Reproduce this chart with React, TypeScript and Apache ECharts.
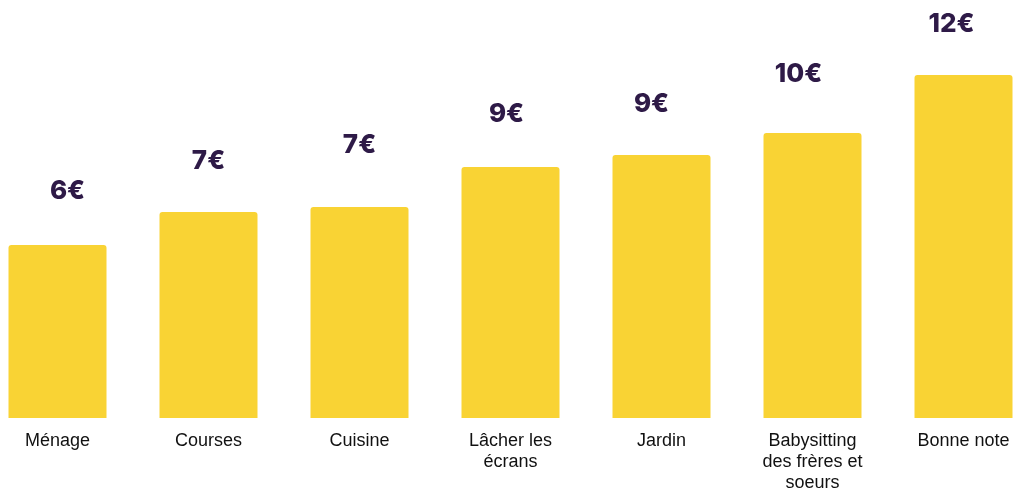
import React, { useEffect, useRef } from "react";
import * as echarts from "echarts";

const categories = [
  "Ménage",
  "Courses",
  "Cuisine",
  "Lâcher les\nécrans",
  "Jardin",
  "Babysitting\ndes frères et\nsoeurs",
  "Bonne note",
];
const values = [6.05, 7.21, 7.38, 8.78, 9.2, 9.97, 12];
const valueLabels = ["6€", "7€", "7€", "9€", "9€", "10€", "12€"];

// small per-label nudges (styling only) to mirror the reference placement
const labelNudges: [number, number][] = [
  [10, -0.5],
  [0, 3],
  [0, -8.5],
  [-4, 0],
  [-10, 2],
  [-14, -6],
  [-12, 2],
];

export default function App() {
  const ref = useRef<HTMLDivElement>(null);
  useEffect(() => {
    if (!ref.current) return;
    const chart = echarts.init(ref.current, undefined, { renderer: "svg" });
    chart.setOption({
      animation: false,
      grid: {
        left: 0,
        right: 0,
        top: 75,
        bottom: 73,
        containLabel: false,
        outerBoundsMode: "none",
      },
      xAxis: {
        type: "category",
        data: categories,
        axisLine: { show: false },
        axisTick: { show: false },
        axisLabel: {
          interval: 0,
          color: "#111111",
          fontFamily: "Liberation Sans, Arial, sans-serif",
          fontSize: 18,
          lineHeight: 21,
          margin: 11,
          verticalAlign: "top",
        },
      },
      yAxis: {
        type: "value",
        min: 0,
        max: 12,
        show: false,
        splitLine: { show: false },
      },
      series: [
        {
          type: "bar",
          data: values.map((v, i) => ({
            value: v,
            label: { offset: labelNudges[i] },
          })),
          barWidth: 98,
          itemStyle: { color: "#F9D334", borderRadius: [3, 3, 0, 0] },
          label: {
            show: true,
            position: "top",
            distance: 42,
            formatter: (p: any) => valueLabels[p.dataIndex],
            color: "#2E1A47",
            fontFamily: "Inter, Lato, sans-serif",
            fontWeight: 800,
            fontSize: 26,
          },
        },
      ],
    });
    return () => chart.dispose();
  }, []);
  return (
    <div style={{ position: "fixed", left: 0, top: 0, width: 1021, height: 491, overflow: "hidden" }}>
      <div
        ref={ref}
        style={{ position: "absolute", left: -18.5, top: 0, width: 1057, height: 491 }}
      />
    </div>
  );
}
